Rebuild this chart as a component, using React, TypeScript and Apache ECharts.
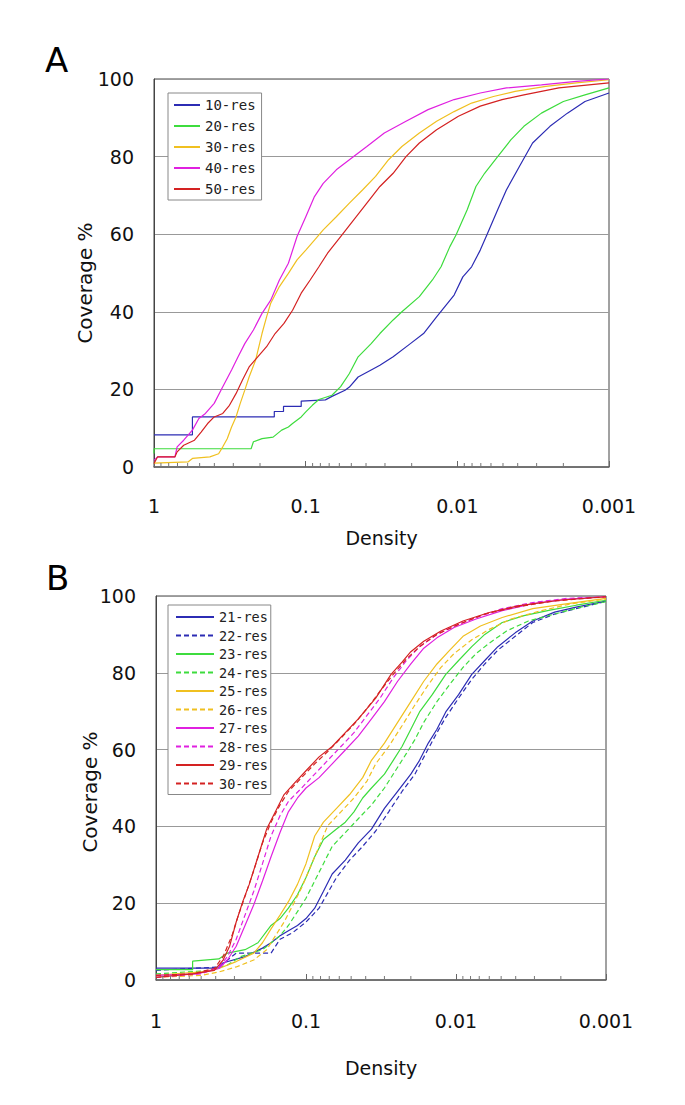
import React, { useEffect, useRef } from "react";
import * as echarts from "echarts";

// ---------- tick labels ----------
const densityTickLabels = ["1", "0.1", "0.01", "0.001"];
const minorTickDensities = [
  0.9, 0.8, 0.7, 0.6, 0.5, 0.4, 0.3, 0.2,
  0.09, 0.08, 0.07, 0.06, 0.05, 0.04, 0.03, 0.02,
  0.009, 0.008, 0.007, 0.006, 0.005, 0.004, 0.003, 0.002,
];

// ---------- Panel A : [density, coverage %] ----------
const namesA = ["10-res", "20-res", "30-res", "40-res", "50-res"];

const res10 = [[1,8.3],[0.558,8.3],[0.558,12.9],[0.161,12.9],[0.161,14.3],[0.14,14.3],[0.14,15.6],[0.107,15.6],[0.107,17.0],[0.0741,17.3],[0.0671,18.2],[0.055,19.8],[0.0515,20.6],[0.0451,23.2],[0.037,25],[0.0324,26.2],[0.0265,28.4],[0.0204,31.8],[0.0167,34.4],[0.0137,38.7],[0.0105,44.3],[0.0092,49],[0.00805,51.6],[0.00706,55.9],[0.00639,59.8],[0.00542,66.3],[0.00475,71.4],[0.00389,77.5],[0.00319,83.5],[0.00245,87.8],[0.00188,91.2],[0.00144,94.2],[0.001,96.4]];
const res20 = [[1,3.5],[1,4.7],[0.229,4.7],[0.221,6.5],[0.194,7.3],[0.164,7.7],[0.144,9.5],[0.13,10.3],[0.122,11.2],[0.107,12.9],[0.0998,14.2],[0.0904,15.9],[0.0818,17.4],[0.0671,18.5],[0.0588,20.7],[0.0515,24.1],[0.0451,28.4],[0.037,31.8],[0.0324,34.4],[0.0265,37.9],[0.0232,40],[0.0178,43.9],[0.0146,48.2],[0.0128,51.6],[0.0112,56.8],[0.0102,59.8],[0.00861,66.3],[0.00754,72.3],[0.00661,75.7],[0.00542,80],[0.00444,84.3],[0.00364,87.8],[0.00279,91.2],[0.002,94.2],[0.00144,95.9],[0.001,97.7]];
const res30 = [[1,1.0],[0.597,1.3],[0.558,2.2],[0.428,2.6],[0.375,3.4],[0.352,5.2],[0.329,7.3],[0.308,10.3],[0.288,12.9],[0.27,16.4],[0.252,19.8],[0.236,23.2],[0.214,27.5],[0.194,34.4],[0.181,38.7],[0.17,42.2],[0.149,46.5],[0.13,49.9],[0.114,53.4],[0.0998,55.9],[0.0875,58.5],[0.0766,61.1],[0.0628,64.5],[0.0515,68],[0.0422,71.4],[0.0346,74.9],[0.0284,79.2],[0.0232,82.6],[0.0178,86.1],[0.0137,89.1],[0.0105,91.6],[0.00805,93.8],[0.00578,95.5],[0.00416,96.8],[0.00261,98.1],[0.00164,99],[0.001,99.8]];
const res40 = [[1,1.7],[0.948,2.6],[0.728,2.6],[0.704,5.2],[0.637,6.9],[0.558,9.5],[0.506,12.5],[0.458,13.8],[0.401,16.4],[0.352,20.7],[0.308,25],[0.279,28.4],[0.252,31.8],[0.221,35.3],[0.194,39.6],[0.17,43],[0.149,48.2],[0.13,52.5],[0.114,59.4],[0.0998,64.5],[0.0875,69.7],[0.0766,73.1],[0.0628,76.6],[0.0515,79.2],[0.0395,82.6],[0.0303,86.1],[0.0218,89.1],[0.0156,92.1],[0.0105,94.7],[0.00706,96.4],[0.00475,97.7],[0.00279,98.5],[0.00164,99.4],[0.001,100]];
const res50 = [[1,0.9],[0.948,2.6],[0.728,2.6],[0.704,3.9],[0.637,5.6],[0.541,6.9],[0.489,9.0],[0.443,11.2],[0.401,12.9],[0.352,13.8],[0.318,15.9],[0.288,18.9],[0.261,22.4],[0.236,25.8],[0.207,28.4],[0.181,31],[0.159,34.4],[0.139,37],[0.122,40.4],[0.107,44.8],[0.0934,48.2],[0.0818,51.6],[0.0717,55.1],[0.0588,59.4],[0.0482,63.7],[0.0395,68],[0.0324,72.3],[0.0265,75.7],[0.0218,80],[0.0178,83.5],[0.0137,86.9],[0.00984,90.4],[0.00706,93],[0.00507,94.7],[0.00364,95.9],[0.00214,97.7],[0.001,99]];

// ---------- Panel B : [density, coverage %] ----------
const namesB = ["21-res", "22-res", "23-res", "24-res", "25-res", "26-res", "27-res", "28-res", "29-res", "30-res"];

const res21 = [[1,3.1],[0.381,3.1],[0.369,4.3],[0.255,6.1],[0.195,8.3],[0.171,9.7],[0.149,11.5],[0.131,12.8],[0.114,14.2],[0.1,16],[0.0875,18.7],[0.0765,23.1],[0.0669,27.6],[0.0547,31.2],[0.0448,35.7],[0.0366,39.3],[0.03,44.7],[0.0245,49.1],[0.02,53.6],[0.0175,57.2],[0.0153,61.7],[0.0134,65.3],[0.0117,69.8],[0.00961,74.3],[0.00785,79.6],[0.00643,83.2],[0.00526,86.8],[0.00403,90.4],[0.00308,93.5],[0.0022,95.8],[0.00158,97.1],[0.001,98.7]];
const res22 = [[1,2.5],[0.381,3.4],[0.292,7.0],[0.171,7.0],[0.149,10.6],[0.122,12.4],[0.1,15.1],[0.0818,18.7],[0.0716,22.7],[0.0626,26.7],[0.0512,31.2],[0.0419,34.8],[0.0343,38.8],[0.0281,43.8],[0.0229,49.1],[0.0188,53.6],[0.0159,59],[0.0134,64.4],[0.0117,68.4],[0.00961,73.4],[0.00785,78.3],[0.00643,82.3],[0.00526,85.9],[0.00403,89.5],[0.00308,93.1],[0.0022,95.3],[0.00158,96.7],[0.001,98.6]];
const res23 = [[1,2.7],[0.57,2.7],[0.57,4.9],[0.381,5.5],[0.334,7.0],[0.255,7.9],[0.209,9.7],[0.171,14.2],[0.149,16],[0.131,18.7],[0.114,22.2],[0.1,26.7],[0.0875,32.1],[0.0765,36.6],[0.0626,39.3],[0.0547,41.1],[0.0479,43.8],[0.0419,47.4],[0.0366,50],[0.03,53.6],[0.0262,57.2],[0.0229,60.8],[0.02,65.3],[0.0175,69.8],[0.0144,74.3],[0.0117,79.6],[0.00961,83.2],[0.00785,86.8],[0.00643,90],[0.00492,93.1],[0.00352,94.9],[0.00236,96.3],[0.00158,97.6],[0.001,98.9]];
const res24 = [[1,1.6],[0.436,2.5],[0.334,3.9],[0.273,6.1],[0.195,7.9],[0.149,11.5],[0.131,14.2],[0.114,17.8],[0.1,21.3],[0.0875,25.8],[0.0765,30.3],[0.0669,34.8],[0.0547,38.4],[0.0448,42],[0.0366,45.6],[0.03,50],[0.0245,55.4],[0.0214,59],[0.0188,62.6],[0.0164,67.1],[0.0134,72.5],[0.011,77],[0.00898,81.4],[0.00735,85],[0.00601,87.7],[0.0046,90.9],[0.00329,93.5],[0.0022,95.3],[0.00148,97.1],[0.001,98.5]];
const res25 = [[1,1.2],[0.499,2.1],[0.381,3.0],[0.292,4.8],[0.223,7],[0.195,9.7],[0.171,13.3],[0.149,16.9],[0.131,20.4],[0.114,24.9],[0.1,30.3],[0.0875,37.5],[0.0765,41.1],[0.0626,44.7],[0.0512,48.3],[0.0419,52.7],[0.0366,57.2],[0.03,61.7],[0.0245,67.1],[0.02,72.5],[0.0164,77.8],[0.0134,82.3],[0.011,85.9],[0.00898,89.5],[0.00687,92.2],[0.00492,94.4],[0.00308,96.7],[0.0018,98],[0.001,99.4]];
const res26 = [[1,0.7],[0.499,1.2],[0.381,2.1],[0.292,3.4],[0.223,5.2],[0.183,7.9],[0.16,11.5],[0.14,15.1],[0.122,19.6],[0.107,24],[0.0935,29.4],[0.0818,34.8],[0.0716,40.2],[0.0585,43.8],[0.0479,47.4],[0.0392,51.8],[0.0343,56.3],[0.0281,60.8],[0.0229,66.2],[0.0188,71.6],[0.0153,76.9],[0.0126,81.4],[0.0103,85],[0.00785,88.6],[0.00601,91.3],[0.0043,94],[0.00269,96.2],[0.00169,98],[0.001,99.2]];
const res27 = [[1,1.2],[0.533,1.6],[0.381,3.0],[0.334,5.2],[0.292,8.8],[0.255,14.2],[0.223,19.6],[0.195,25.8],[0.171,32.1],[0.149,38.4],[0.131,43.8],[0.114,47.4],[0.1,50],[0.0818,52.7],[0.0669,56.3],[0.0547,59.9],[0.0448,63.5],[0.0366,68],[0.03,72.5],[0.0245,77.8],[0.02,82.3],[0.0164,86.4],[0.0134,89.1],[0.0103,91.8],[0.00735,94],[0.00492,96.2],[0.00308,98],[0.0018,99.2],[0.001,99.8]];
const res28 = [[1,0.7],[0.499,1.6],[0.381,3.4],[0.334,6.1],[0.292,10.6],[0.255,16.9],[0.223,23.1],[0.195,30.3],[0.171,37.5],[0.149,42.8],[0.131,46.5],[0.107,50],[0.0875,53.6],[0.0716,57.2],[0.0585,60.8],[0.0479,64.4],[0.0392,68.9],[0.0321,73.4],[0.0262,78.7],[0.0214,83.2],[0.0175,86.8],[0.0134,90],[0.0103,92.2],[0.00735,94.4],[0.00492,96.7],[0.00308,98.3],[0.0018,99.4],[0.001,99.8]];
const res29 = [[1,0.7],[0.57,1.6],[0.408,2.5],[0.357,5.2],[0.323,8.8],[0.292,15.1],[0.264,20.4],[0.239,24.9],[0.209,32.1],[0.183,39.3],[0.16,43.8],[0.14,48.3],[0.122,50.9],[0.1,54.5],[0.0818,58.1],[0.0669,60.8],[0.0547,64.4],[0.0448,68],[0.0343,73.4],[0.0271,79.6],[0.0229,82.8],[0.02,85.5],[0.0164,88.2],[0.0126,90.9],[0.00898,93.5],[0.00601,95.7],[0.00377,97.5],[0.00206,98.9],[0.001,99.8]];
const res30b = [[1,1.2],[0.57,1.6],[0.408,3.0],[0.357,6.1],[0.312,11.5],[0.282,16.9],[0.255,21.8],[0.223,28.5],[0.195,35.7],[0.171,41.1],[0.149,45.6],[0.131,49.1],[0.107,52.7],[0.0875,56.3],[0.0716,59.5],[0.0585,63],[0.0479,66.6],[0.0392,70.7],[0.0321,75.2],[0.0262,79.6],[0.0214,83.6],[0.0175,86.8],[0.0134,90],[0.00961,92.6],[0.00643,95.3],[0.00403,97.1],[0.0022,98.7],[0.001,99.8]];

const dataA = [res10, res20, res30, res40, res50];
const dataB = [res21, res22, res23, res24, res25, res26, res27, res28, res29, res30b];

const BLUE = "#2c2cb4";
const GREEN = "#3ddc3d";
const YELLOW = "#f0c020";
const MAGENTA = "#e020e0";
const RED = "#d42222";
const colorsA = [BLUE, GREEN, YELLOW, MAGENTA, RED];
const colorsB = [BLUE, BLUE, GREEN, GREEN, YELLOW, YELLOW, MAGENTA, MAGENTA, RED, RED];

const LABEL_FONT = "DejaVu Sans";
const LEGEND_FONT = "DejaVu Sans Mono";
const B_PREFIX = "B:";

function lineSeries(name: string, data: number[][], color: string, dashed: boolean, idx: number) {
  return {
    type: "line",
    name,
    data,
    xAxisIndex: idx,
    yAxisIndex: idx,
    symbol: "none",
    showSymbol: false,
    lineStyle: { color, width: 1.2, type: dashed ? [5, 3] : "solid" },
    itemStyle: { color },
    z: 3,
  };
}

function minorTickSeries(idx: number) {
  return {
    type: "custom",
    name: "minor" + idx,
    xAxisIndex: idx,
    yAxisIndex: idx,
    silent: true,
    clip: false,
    z: 4,
    data: minorTickDensities.map((d) => [d, 0]),
    renderItem: (params: any, api: any) => {
      const p = api.coord([api.value(0), 0]);
      return {
        type: "line",
        shape: { x1: p[0], y1: p[1], x2: p[0], y2: p[1] - 4 },
        style: { stroke: "#777", lineWidth: 1 },
      };
    },
  };
}

function xAxis(idx: number, labelMargin: number, nameGap: number) {
  return {
    type: "log",
    gridIndex: idx,
    logBase: 10,
    min: 0.001,
    max: 1,
    inverse: true,
    name: "Density",
    nameLocation: "middle",
    nameGap,
    nameTextStyle: { fontFamily: LABEL_FONT, fontSize: 19, color: "#111" },
    axisLine: { show: true, lineStyle: { color: "#666", width: 1.5 } },
    axisTick: { show: true, inside: true, length: 6, lineStyle: { color: "#666" } },
    axisLabel: {
      margin: labelMargin,
      fontFamily: LABEL_FONT,
      fontSize: 19,
      color: "#111",
      formatter: (v: number) => densityTickLabels[Math.round(-Math.log10(v))] ?? "",
    },
    splitLine: { show: false },
    minorTick: { show: false },
  };
}

function yAxis(idx: number) {
  return {
    type: "value",
    gridIndex: idx,
    min: 0,
    max: 100,
    interval: 20,
    axisLine: { show: true, lineStyle: { color: "#444", width: 1 } },
    axisTick: { show: false },
    axisLabel: { margin: 20, fontFamily: LABEL_FONT, fontSize: 19, color: "#111" },
    splitLine: { show: true, lineStyle: { color: "#999", width: 1 } },
  };
}

function legend(names: string[], left: number, top: number, itemWidth: number, itemGap: number, fontSize: number, padding: number[]) {
  return {
    orient: "vertical",
    left,
    top,
    data: names,
    itemWidth,
    itemHeight: 14,
    itemGap,
    padding,
    selectedMode: false,
    backgroundColor: "#fff",
    borderColor: "#888",
    borderWidth: 1,
    borderRadius: 0,
    itemStyle: { opacity: 0, borderWidth: 0 },
    formatter: (n: string) => n.replace(B_PREFIX, ""),
    textStyle: { fontFamily: LEGEND_FONT, fontSize, color: "#222" },
  };
}

function yName(x: number, y: number) {
  return {
    type: "text",
    x,
    y,
    rotation: Math.PI / 2,
    style: {
      text: "Coverage %",
      font: "20px DejaVu Sans",
      fill: "#111",
      align: "center",
      verticalAlign: "middle",
    },
  };
}

export default function App() {
  const ref = useRef<HTMLDivElement>(null);
  useEffect(() => {
    if (!ref.current) return;
    const chart = echarts.init(ref.current, null, { renderer: "svg" });
    const series: any[] = [];
    namesA.forEach((n, i) => series.push(lineSeries(n, dataA[i], colorsA[i], false, 0)));
    namesB.forEach((n, i) => series.push(lineSeries(B_PREFIX + n, dataB[i], colorsB[i], i % 2 === 1, 1)));
    series.push(minorTickSeries(0));
    series.push(minorTickSeries(1));

    chart.setOption({
      animation: false,
      backgroundColor: "#fff",
      grid: [
        { left: 154, top: 79, width: 455, height: 388, show: true, borderColor: "#444", borderWidth: 1, backgroundColor: "transparent" },
        { left: 156, top: 596, width: 450, height: 384, show: true, borderColor: "#444", borderWidth: 1, backgroundColor: "transparent" },
      ],
      xAxis: [xAxis(0, 29, 61), xAxis(1, 31, 78)],
      yAxis: [yAxis(0), yAxis(1)],
      legend: [
        legend(namesA, 168, 93, 26, 7, 14, [5, 6, 4, 5]),
        legend(namesB.map((n) => B_PREFIX + n), 168, 605, 38, 4.5, 13.5, [5, 3, 4, 7]),
      ],
      graphic: [
        { type: "text", left: 45, top: 43, style: { text: "A", font: "34px DejaVu Sans", fill: "#000" } },
        { type: "text", left: 46, top: 561, style: { text: "B", font: "34px DejaVu Sans", fill: "#000" } },
        yName(85, 283),
        yName(90, 792),
      ],
      series,
    });
    return () => chart.dispose();
  }, []);
  return (
    <div
      ref={ref}
      style={{ position: "absolute", left: 0, top: 0, width: 685, height: 1105, background: "#fff" }}
    />
  );
}
